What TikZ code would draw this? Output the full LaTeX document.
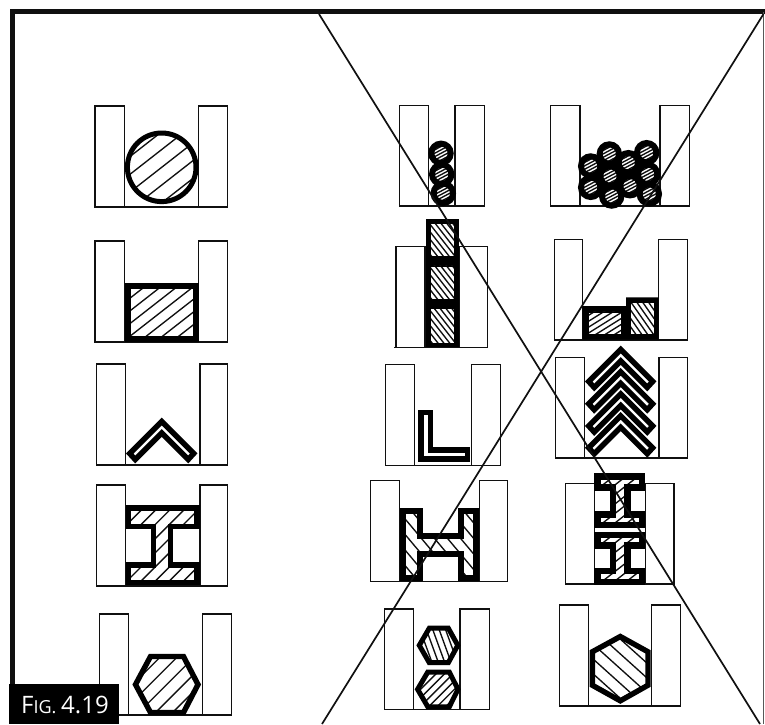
\documentclass[tikz,border=0pt]{standalone}
\usepackage{fontspec}
\setmainfont{Open Sans}
\definecolor{ink}{HTML}{101010}
\tikzset{
  slotline/.style={draw=ink,line width=1.5pt,line join=miter,fill=white},
  hatchline/.style={draw=ink,line width=1.35pt},
  diag/.style={draw=ink,line width=1.7pt},
  framebar/.style={draw=ink,line width=5pt},
}
% x1 x2 x3 x4 top bottom
\newcommand{\slotpair}[6]{%
  \draw[slotline] (#1,#5) rectangle (#2,#6);
  \draw[slotline] (#3,#5) rectangle (#4,#6);
  \draw[draw=ink,line width=1.5pt] (#2,#6) -- (#3,#6);
}
% cx cy angle spacing strokewidth path
\newcommand{\hshape}[6]{%
  \fill[white] #6;
  \begin{scope}
    \clip #6;
    \foreach \k in {-14,...,14}
      \draw[hatchline,shift={(#1,#2)},rotate=#3] (-70,{\k*#4}) -- (70,{\k*#4});
  \end{scope}
  \draw[draw=black,line width=#5pt,line join=miter,miter limit=10] #6;
}
% cx apexy
\newcommand{\chevron}[2]{%
  \draw[draw=black,fill=white,line width=5.4pt,line join=miter,miter limit=10]
    (#1,#2+3.8) -- (#1+32,#2+35.8) -- (#1+26.5,#2+41.8) -- (#1,#2+15.3)
    -- (#1-26.5,#2+41.8) -- (#1-32,#2+35.8) -- cycle;
}
% x0 x1 xa xb y0 y1 y2 y3 -> path of an I section
\newcommand{\ipath}[8]{(#1,#5) -- (#2,#5) -- (#2,#6) -- (#4,#6) -- (#4,#7) -- (#2,#7) -- (#2,#8) -- (#1,#8) -- (#1,#7) -- (#3,#7) -- (#3,#6) -- (#1,#6) -- cycle}
% cx cy for a small hatched bar
\newcommand{\roundbar}[2]{\hshape{#1}{#2}{28}{3}{6}{(#1,#2) circle [radius=9.7]}}
\begin{document}
\begin{tikzpicture}[x=1pt,y=-1pt]
\useasboundingbox (0,0) rectangle (765,724);
\fill[white] (0,0) rectangle (765,724);

% frame
\draw[framebar] (12.5,690) -- (12.5,11.5) -- (765,11.5);
\draw[draw=ink!70!white,line width=1pt] (763.5,12) -- (763.5,724);

% column 1
\slotpair{95}{124.5}{198.5}{227.5}{106}{207}
\hshape{161.7}{167.3}{38}{14}{5}{(161.7,167.3) circle [radius=34.3]}

\slotpair{95}{124.5}{198.5}{227.5}{241}{342}
\hshape{161}{312}{38}{10}{6}{(127.5,286) rectangle (195.5,339.2)}

\slotpair{96.7}{125.7}{200}{227.7}{364}{465}
\chevron{161.7}{417.7}

\slotpair{96.7}{125.7}{200}{227.7}{485}{586}
\hshape{163}{545}{45}{10}{5.6}{\ipath{128.5}{197.2}{153.5}{170.5}{508}{526.5}{565}{582.5}}

\slotpair{99.3}{128.3}{202.3}{231.7}{614}{715}
\hshape{166.7}{684.5}{45}{12}{5.4}{(135.5,684.5) -- (150.5,656.5) -- (183.5,656.5) -- (198,684.5) -- (183.5,712.5) -- (150.5,712.5) -- cycle}

% column 2
\slotpair{399.3}{428.7}{455}{484.3}{105.7}{206}
\roundbar{441}{153.3}
\roundbar{441.7}{174.3}
\roundbar{443.3}{193.3}

\slotpair{396}{425}{459}{487.7}{246.7}{347.3}
\draw[draw=ink,line width=1.5pt] (394,347.3) -- (396,347.3);
\fill[black] (425.7,219) rectangle (459,346.7);
\hshape{442}{239.6}{-52}{4.6}{0.1}{(430,223.3) rectangle (454,256)}
\hshape{442}{282.5}{-52}{4.6}{0.1}{(430,265.7) rectangle (454,299.3)}
\hshape{442}{325.8}{-52}{4.6}{0.1}{(430,308.3) rectangle (454,343.3)}

\slotpair{385.7}{414.7}{471.7}{500.3}{364.7}{465.7}
\draw[draw=black,line width=5.4pt,fill=white,line join=miter] (420.9,412.6) -- (430.2,412.6) -- (430.2,449.8) -- (467.5,449.8) -- (467.5,459.1) -- (420.9,459.1) -- cycle;

\slotpair{370.7}{399.7}{479.3}{507.7}{480.7}{581.3}
\hshape{439.6}{544.5}{-50}{10}{6}{(403,511.3) -- (419.5,511.3) -- (419.5,535.8) -- (460.5,535.8) -- (460.5,511.3) -- (476.4,511.3) -- (476.4,577.7) -- (460.5,577.7) -- (460.5,554) -- (419.5,554) -- (419.5,577.7) -- (403,577.7) -- cycle}

\slotpair{384.3}{413.3}{460}{489.3}{609}{709.3}
\hshape{438.5}{645.3}{-70}{6}{5}{(419.3,645.3) -- (429.3,628.2) -- (448.3,628.2) -- (457.8,645.3) -- (448.3,662.7) -- (429.3,662.7) -- cycle}
\hshape{437.5}{689.3}{45}{6}{5}{(417.6,689.3) -- (427.8,672) -- (449.3,672) -- (458,689.3) -- (449.3,706.8) -- (427.8,706.8) -- cycle}

% column 3
\slotpair{550.7}{580}{660}{689.3}{105.7}{206}
\fill[black] (590.7,166) -- (609.3,154) -- (628.3,162.7) -- (646.7,152.7) -- (647.7,174.3) -- (649.3,194) -- (630,185.7) -- (611.7,196) -- (590.7,187.3) -- cycle;
\roundbar{590.7}{166}
\roundbar{609.3}{154}
\roundbar{628.3}{162.7}
\roundbar{646.7}{152.7}
\roundbar{590.7}{187.3}
\roundbar{610}{176}
\roundbar{630}{185.7}
\roundbar{647.7}{174.3}
\roundbar{611.7}{196}
\roundbar{649.3}{194}

\slotpair{554.3}{582.3}{658.7}{687.7}{239.3}{340}
\fill[black] (582.3,306) -- (626,306) -- (626,297.3) -- (658.7,297.3) -- (658.7,339.6) -- (582.3,339.6) -- cycle;
\hshape{604.6}{323}{32}{5}{0.1}{(588.3,311.7) rectangle (621,334)}
\hshape{642}{318}{-55}{4.8}{0.1}{(630,302.3) rectangle (654.3,334)}

\slotpair{555.7}{584.7}{659}{687.7}{357.3}{458}
\chevron{620.7}{345.7}
\chevron{620.7}{368}
\chevron{620.7}{390.2}
\chevron{620.7}{412}

\slotpair{565.3}{594.3}{645.3}{674}{483.3}{584}
\hshape{620}{500}{38}{7.5}{6.4}{\ipath{597.3}{642.2}{613}{627.5}{476.3}{487.5}{514.5}{525.2}}
\hshape{620}{558}{38}{7.5}{6.4}{\ipath{597.3}{642.2}{613}{627.5}{534.8}{545.5}{571}{581.8}}

\slotpair{559.3}{588.7}{651.3}{680.7}{605}{706}
\hshape{620.3}{668.7}{-42}{11}{5.4}{(620.3,636.5) -- (648,651.8) -- (648,685.2) -- (620.3,700.8) -- (592.3,685.2) -- (592.3,651.8) -- cycle}

% crossing lines
\coordinate (crossAtop) at (319,14);
\coordinate (crossAbot) at (760,724);
\coordinate (crossBtop) at (763.5,14);
\coordinate (crossBbot) at (322,724);
\draw[diag] (crossAtop) -- (crossAbot);
\draw[diag] (crossBtop) -- (crossBbot);

% caption
\fill[black] (9.3,684) rectangle (119,724);
\node[text=white,inner sep=0pt,anchor=base west] (figlabel) at (21,713) {\fontsize{24}{24}\selectfont F\fontsize{18}{18}\selectfont IG. \fontsize{24}{24}\selectfont 4.19};
\end{tikzpicture}
\end{document}
